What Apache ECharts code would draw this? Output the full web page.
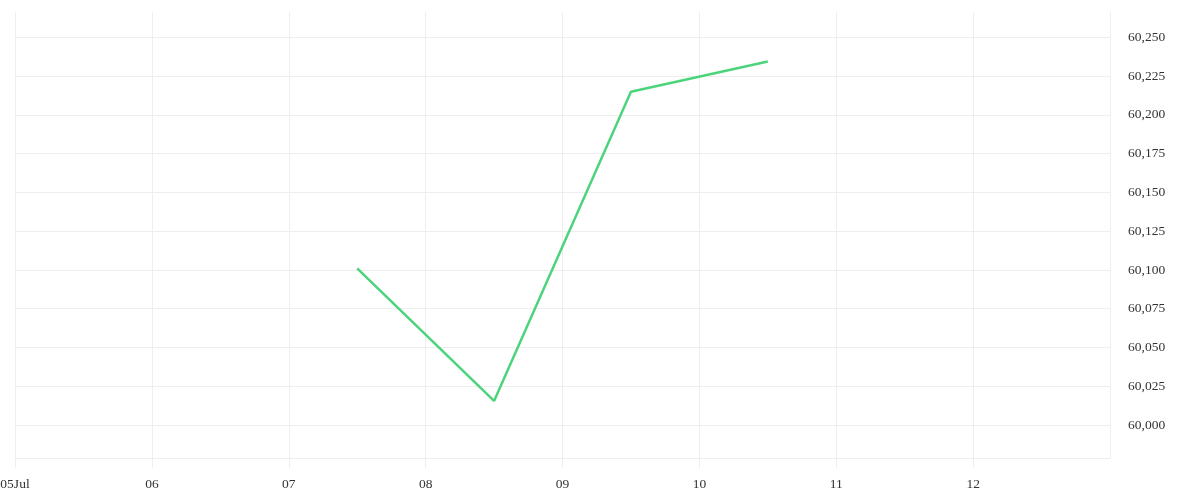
<!DOCTYPE html>
<html>
<head>
<meta charset="utf-8">
<script src="https://cdn.jsdelivr.net/npm/echarts@6/dist/echarts.min.js"></script>
<style>html,body{margin:0;padding:0;background:#fff}#c{width:1200px;height:500px}</style>
</head>
<body>
<div id="c"></div>
<script>
const dates = ['2024-07-07 12:00', '2024-07-08 12:00', '2024-07-09 12:00', '2024-07-10 12:00'];
const values = [60101, 60015.5, 60215, 60234.5];
const yTicks = [60000, 60025, 60050, 60075, 60100, 60125, 60150, 60175, 60200, 60225, 60250];
const xMin = '2024-07-05';
const xMax = '2024-07-13';
const yMin = 59978.7;
const yMax = 60266.4;

const chart = echarts.init(document.getElementById('c'));
const font = 'Liberation Serif, DejaVu Serif, serif';
chart.setOption({
  animation: false,
  grid: { left: 15, right: 90, top: 12, bottom: 42, containLabel: false, outerBoundsMode: 'none' },
  xAxis: {
    type: 'time',
    min: xMin,
    max: xMax,
    minInterval: 86400000,
    maxInterval: 86400000,
    axisLine: { show: true, lineStyle: { color: '#eeeeee' } },
    axisTick: { show: true, length: 10, lineStyle: { color: '#eeeeee' } },
    splitLine: { show: true, lineStyle: { color: '#eeeeee' } },
    axisLabel: {
      color: '#333', fontFamily: font, fontSize: 13.5, margin: 19,
      showMinLabel: true, showMaxLabel: false,
      formatter: function (v) {
        const d = new Date(v);
        const dd = String(d.getDate()).padStart(2, '0');
        return d.getDate() === 5 ? dd + 'Jul' : dd;
      }
    }
  },
  yAxis: {
    type: 'value',
    position: 'right',
    min: yMin,
    max: yMax,
    axisLine: { show: true, lineStyle: { color: '#eeeeee' } },
    axisTick: { show: false, customValues: yTicks },
    splitLine: { show: true, lineStyle: { color: '#eeeeee' } },
    axisLabel: {
      customValues: yTicks,
      color: '#333', fontFamily: font, fontSize: 13.5, margin: 18,
      formatter: function (v) { return Math.round(v).toLocaleString('en-US'); }
    }
  },
  series: [{
    type: 'line',
    data: dates.map((d, i) => [d, values[i]]),
    showSymbol: false,
    symbol: 'none',
    lineStyle: { color: '#4cd47c', width: 2.5 },
    itemStyle: { color: '#4cd47c' }
  }]
});
</script>
</body>
</html>
